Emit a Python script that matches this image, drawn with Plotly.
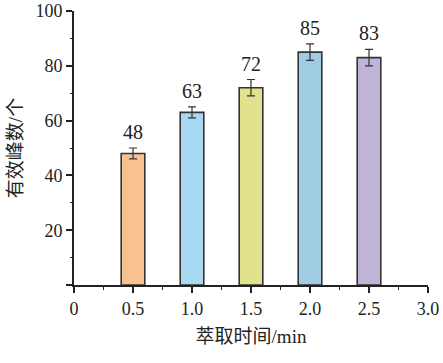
import plotly.graph_objects as go

times = [0.5, 1.0, 1.5, 2.0, 2.5]
peaks = [48, 63, 72, 85, 83]
errors = [2, 2, 3, 3, 3]
colors = ["#F8C290", "#A9D9F1", "#E1E18E", "#A0CDE4", "#C0B3D8"]
x_ticks = [0, 0.5, 1.0, 1.5, 2.0, 2.5, 3.0]
x_tick_labels = ["0", "0.5", "1.0", "1.5", "2.0", "2.5", "3.0"]
y_ticks = [20, 40, 60, 80, 100]

font_fam = "Liberation Serif, Times New Roman, Noto Sans CJK SC, serif"

fig = go.Figure()
fig.add_trace(go.Bar(
    x=times, y=peaks, width=0.2,
    marker=dict(color=colors, line=dict(color="#333333", width=1.6)),
    error_y=dict(type="data", array=errors, visible=True, color="#333333",
                 thickness=1.2, width=4),
    showlegend=False,
))

for t, p, e in zip(times, peaks, errors):
    fig.add_annotation(x=t, y=p + e, text=str(p), showarrow=False,
                       yanchor="bottom", yshift=3,
                       font=dict(family=font_fam, size=20, color="#222222"))

fig.update_layout(
    width=443, height=363,
    margin=dict(l=74, r=15, t=11, b=78),
    paper_bgcolor="white", plot_bgcolor="white",
    font=dict(family=font_fam, size=18, color="#222222"),
)
fig.update_xaxes(
    range=[0, 3], tickvals=x_ticks, ticktext=x_tick_labels, automargin=False,
    showline=True, linecolor="#222222", linewidth=2,
    ticks="outside", ticklen=6, tickwidth=1.5, tickcolor="#222222",
    minor=dict(dtick=0.25, ticks="outside", ticklen=3, tickwidth=1.2, tickcolor="#222222"),
    showgrid=False, zeroline=False,
    title=dict(text="萃取时间/min", font=dict(family=font_fam, size=19), standoff=12),
)
fig.update_yaxes(
    range=[0, 100], tickvals=[0] + y_ticks, ticktext=[""] + [str(v) for v in y_ticks],
    automargin=False,
    showline=True, linecolor="#222222", linewidth=2,
    ticks="outside", ticklen=6, tickwidth=1.5, tickcolor="#222222",
    minor=dict(dtick=10, ticks="outside", ticklen=2, tickwidth=1.2, tickcolor="#222222"),
    showgrid=False, zeroline=False,
    title=dict(text="有效峰数/个", font=dict(family=font_fam, size=19), standoff=8),
)

fig.write_html("out.html", config={"displayModeBar": False},
               post_script="document.body.style.margin='0';")
